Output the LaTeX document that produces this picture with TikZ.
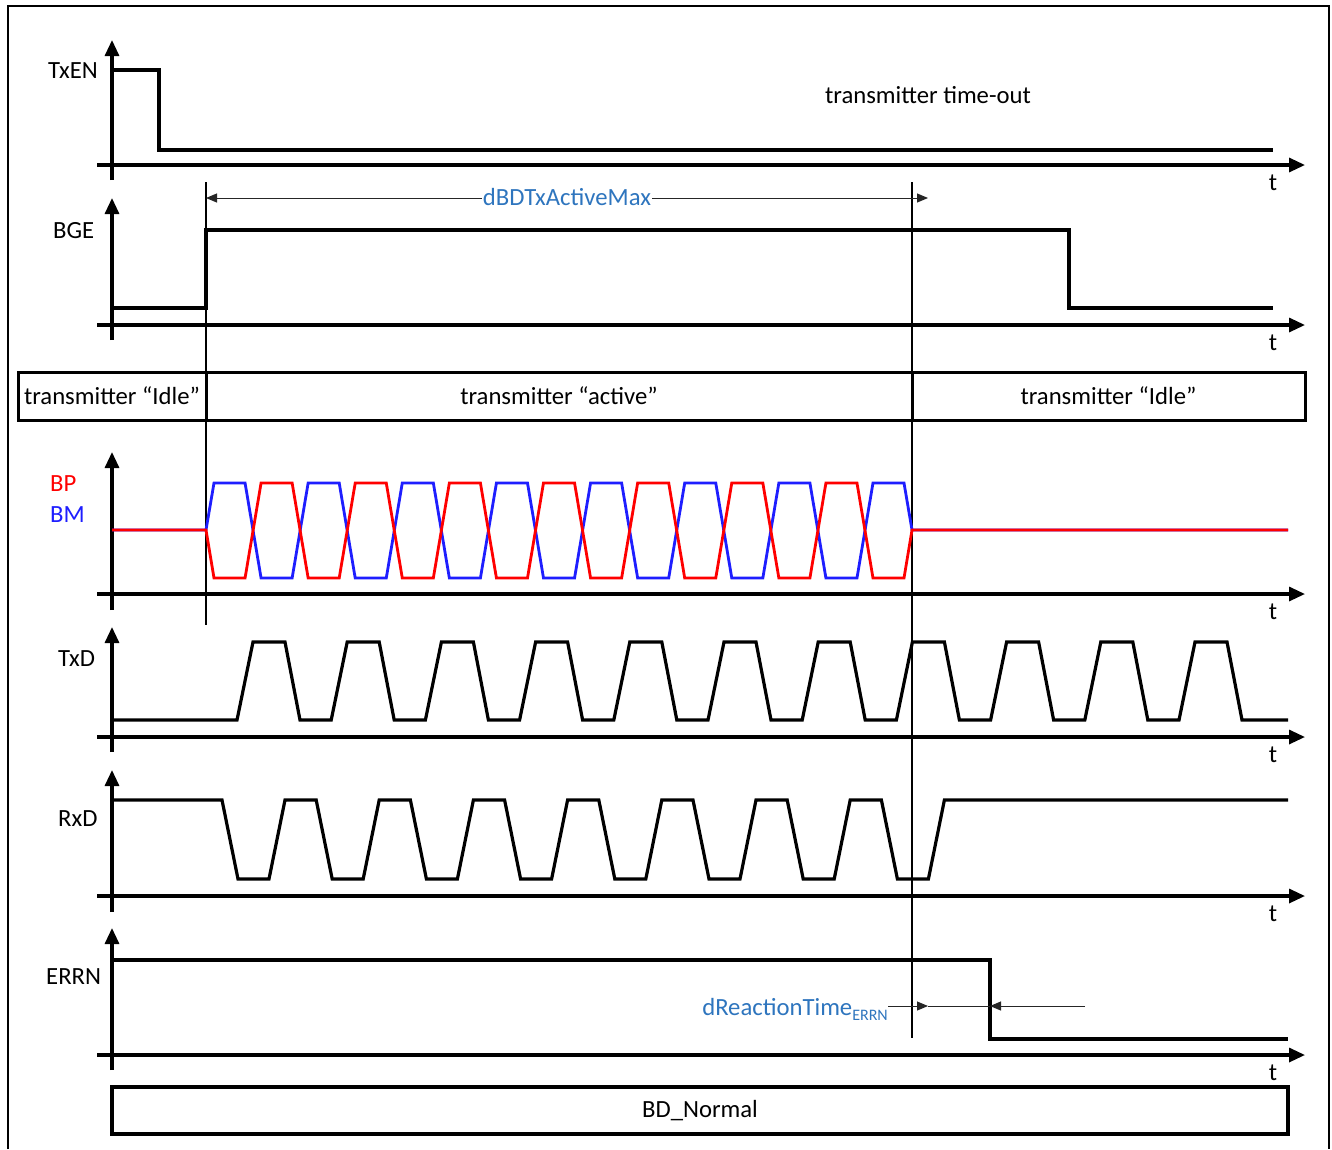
\documentclass[tikz,border=0pt]{standalone}
\usepackage{fontspec}
\setmainfont{Carlito}
\usetikzlibrary{arrows.meta}
\definecolor{dimblue}{RGB}{46,117,190}
\definecolor{bpred}{RGB}{255,0,0}
\definecolor{bmblue}{RGB}{30,30,255}
\begin{document}
\begin{tikzpicture}[x=1pt,y=-1pt, font=\fontsize{24.7}{29}\selectfont,
  axis/.style={line width=3.2pt,-{Triangle[length=16pt,width=14pt]}},
  sig/.style={line width=3.2pt, line join=miter},
  marker/.style={line width=1.3pt},
  dimline/.style={line width=1pt, draw=black!85},
  dtip/.style={-{Triangle[length=11pt,width=9pt]}},
  lbl/.style={inner sep=0pt, anchor=base west},
  tlbl/.style={inner sep=0pt, anchor=base},
  statebox/.style={draw, line width=3pt, minimum height=48pt, inner sep=0pt},
  dimtxt/.style={text=dimblue, inner sep=1pt}]
\useasboundingbox (0,0) rectangle (1332,1149);
\fill[white] (0,0) rectangle (1332,1149);
\draw[line width=2.4pt] (8,1149) -- (8,6) -- (1329,6) -- (1329,1149);

% axes
\foreach \n/\y/\top/\bot in {txen/165/40/180, bge/325/198/340, bus/594/452/610, txd/737/627/752, rxd/896/770/912, errn/1055/928/1070} {
  \coordinate (\n-ya) at (112,\bot);
  \coordinate (\n-yb) at (112,\top);
  \coordinate (\n-xa) at (97,\y);
  \coordinate (\n-xb) at (1305,\y);
  \draw[axis] (\n-ya) -- (\n-yb);
  \draw[axis] (\n-xa) -- (\n-xb);
  \node[tlbl] (\n-t) at (1273,\y+25) {t};
}

% labels
\node[lbl] (lTxEN) at (48,78) {TxEN};
\node[lbl] (lBGE) at (53,238) {BGE};
\node[lbl,text=bpred] (lBP) at (50,491) {BP};
\node[lbl,text=bmblue] (lBM) at (50,522) {BM};
\node[lbl] (lTxD) at (58,666) {TxD};
\node[lbl] (lRxD) at (58,826) {RxD};
\node[lbl] (lERRN) at (46,984) {ERRN};
\node[tlbl] (tout) at (928,103) {transmitter time-out};

% markers
\coordinate (m1a) at (206,182); \coordinate (m1b) at (206,625);
\coordinate (m2a) at (912,182); \coordinate (m2b) at (912,1038);
\draw[marker] (m1a) -- (m1b);
\draw[marker] (m2a) -- (m2b);

% TxEN
\draw[sig] (112,70) -- (159,70) -- (159,150) -- (1273,150);
% BGE
\draw[sig] (112,308) -- (206,308) -- (206,230) -- (1069,230) -- (1069,308) -- (1273,308);

% dBDTxActiveMax
\coordinate (da) at (206,198); \coordinate (db) at (928,198);
\draw[dimline, {Triangle[length=11pt,width=9pt]}-{Triangle[length=11pt,width=9pt]}] (da) -- (db);
\node[dimtxt, fill=white] (dmax) at (567,197) {dBDTxActiveMax};

% state boxes
\node[statebox, minimum width=188pt] (s1) at (112,396) {transmitter “Idle”};
\node[statebox, minimum width=706pt] (s2) at (559,396) {transmitter “active”};
\node[statebox, minimum width=393pt] (s3) at (1108.5,396) {transmitter “Idle”};

% BM (blue)
\draw[line width=2.8pt, draw=bmblue, line join=miter] (112,530) -- (206,530) -- (214,483)
  \foreach \k in {1,3,...,13} {
    -- ({206+47.07*\k-8},483) -- ({206+47.07*\k+8},578)
    -- ({206+47.07*(\k+1)-8},578) -- ({206+47.07*(\k+1)+8},483) }
  -- (904,483) -- (912,530) -- (1288,530);
% BP (red)
\draw[line width=2.8pt, draw=bpred, line join=miter] (112,530) -- (206,530) -- (214,578)
  \foreach \k in {1,3,...,13} {
    -- ({206+47.07*\k-8},578) -- ({206+47.07*\k+8},483)
    -- ({206+47.07*(\k+1)-8},483) -- ({206+47.07*(\k+1)+8},578) }
  -- (904,578) -- (912,530) -- (1288,530);

% TxD
\draw[sig] (112,720) -- (237,720)
  \foreach \j in {0,...,10} {
    -- ({237+94.2*\j},720) -- ({253+94.2*\j},642) -- ({285+94.2*\j},642) -- ({300+94.2*\j},720) }
  -- (1288,720);

% RxD
\draw[sig] (112,800) -- (222,800)
  \foreach \j in {0,...,7} {
    -- ({222+94.2*\j},800) -- ({238+94.2*\j},879) -- ({269+94.2*\j},879) -- ({285+94.2*\j},800) }
  -- (1288,800);

% ERRN
\draw[sig] (112,960) -- (990,960) -- (990,1039) -- (1288,1039);

% dReactionTime
\node[dimtxt, anchor=base east, inner sep=0pt] (drt) at (888,1015) {dReactionTime\raisebox{-5pt}{\fontsize{16}{18}\selectfont ERRN}};
\coordinate (r0) at (888,1006);
\coordinate (r1) at (928,1006);
\coordinate (r2) at (990,1006);
\coordinate (r3) at (1085,1006);
\draw[dimline, dtip] (r0) -- (r1);
\draw[dimline] (r1) -- (r2);
\draw[dimline, dtip] (r3) -- (r2);

% BD_Normal
\node[statebox, line width=3.2pt, minimum width=1176pt, minimum height=47pt] (bd) at (700,1110.5) {BD\_Normal};
\end{tikzpicture}
\end{document}
